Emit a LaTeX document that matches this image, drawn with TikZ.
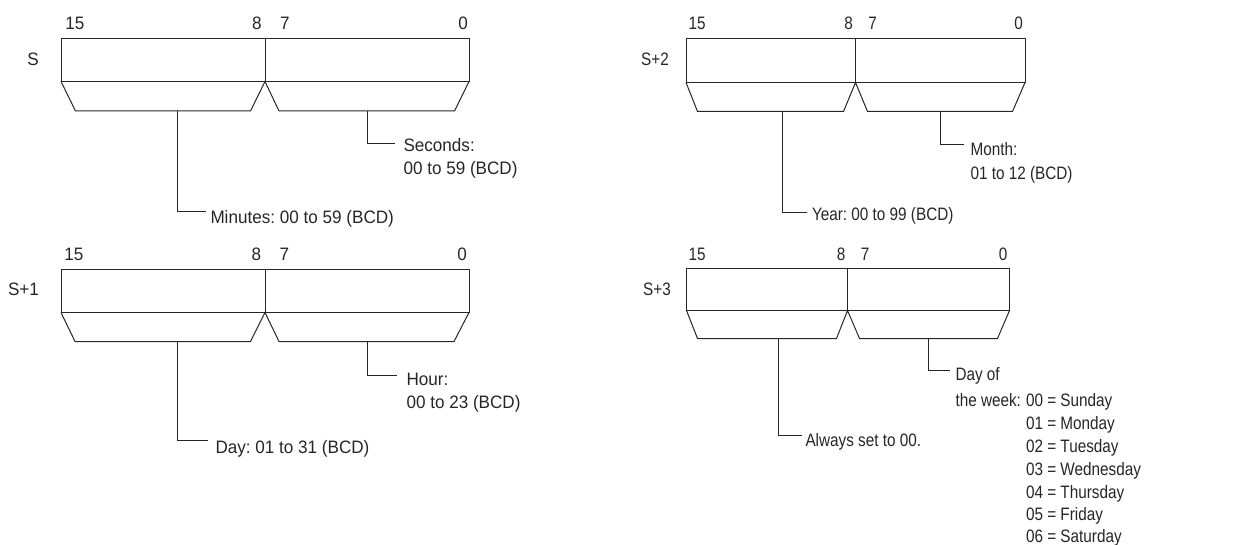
\documentclass[tikz,border=0pt]{standalone}
\usepackage{fontspec}
\setmainfont{Liberation Sans}
\newfontfamily\leftfam{Liberation Sans}[FakeStretch=0.95]
\newfontfamily\narrowfam{Liberation Sans}[FakeStretch=0.85]
\newcommand\lfont{\frenchspacing\leftfam\fontsize{18}{21}\selectfont}
\newcommand\rfont{\frenchspacing\narrowfam\fontsize{18}{21}\selectfont}
\begin{document}
\begin{tikzpicture}[x=1pt,y=-1pt, line width=1pt, line join=miter, draw=black!85,
  lt/.style={inner sep=0pt, font=\lfont, text=black!85},
  rt/.style={inner sep=0pt, font=\rfont, text=black!85}]
\useasboundingbox (0,0) rectangle (1250,545);

% ---------------- S ----------------
\node[lt, anchor=base] (sname) at (33,66) {S};
\node[lt, anchor=base] (s15) at (75,30) {15};
\node[lt, anchor=base] (s8) at (257,30) {8};
\node[lt, anchor=base] (s7) at (285,30) {7};
\node[lt, anchor=base] (s0) at (463,30) {0};
\draw (61,38.5) rectangle (469,81.5);
\draw (265,38.5) -- (265,81.5);
\draw (61,81.5) -- (75.5,111) -- (250.5,111) -- (265,81.5) -- (279,111) -- (454.5,111) -- (469,81.5);
\coordinate (smin) at (206,211.5);
\coordinate (ssec) at (395,144);
\draw (177.5,111) |- (smin);
\draw (367,111) |- (ssec);
\node[lt, anchor=base west] (tmin) at (210,224) {Minutes: 00 to 59 (BCD)};
\node[lt, anchor=base west] (tsec1) at (403,151.5) {Seconds:};
\node[lt, anchor=base west] (tsec2) at (403,175) {00 to 59 (BCD)};

% ---------------- S+1 ----------------
\node[lt, anchor=base] (s1name) at (23.5,296) {S+1};
\node[lt, anchor=base] (s115) at (74,261) {15};
\node[lt, anchor=base] (s18) at (256.5,261) {8};
\node[lt, anchor=base] (s17) at (284.5,261) {7};
\node[lt, anchor=base] (s10) at (462,261) {0};
\draw (61,270) rectangle (469,312.5);
\draw (265,270) -- (265,312.5);
\draw (61,312.5) -- (75,341.5) -- (250.5,341.5) -- (265,312.5) -- (279,341.5) -- (454,341.5) -- (469,312.5);
\coordinate (sday) at (208,440.5);
\coordinate (shour) at (396.5,375);
\draw (177,341.5) |- (sday);
\draw (367,341.5) |- (shour);
\node[lt, anchor=base west] (tday) at (215,453) {Day: 01 to 31 (BCD)};
\node[lt, anchor=base west] (thour1) at (406,385) {Hour:};
\node[lt, anchor=base west] (thour2) at (406,408.5) {00 to 23 (BCD)};

% ---------------- S+2 ----------------
\node[rt, anchor=base] (s2name) at (655,66) {S+2};
\node[rt, anchor=base] (s215) at (697,30) {15};
\node[rt, anchor=base] (s28) at (848.5,30) {8};
\node[rt, anchor=base] (s27) at (872.5,30) {7};
\node[rt, anchor=base] (s20) at (1018.5,30) {0};
\draw (686,39) rectangle (1025,82.5);
\draw (855.5,39) -- (855.5,82.5);
\draw (686,82.5) -- (697.5,111.5) -- (843.5,111.5) -- (855.5,82.5) -- (867.5,111.5) -- (1012.5,111.5) -- (1025,82.5);
\coordinate (syear) at (807,212.5);
\coordinate (smonth) at (963.5,144.5);
\draw (782.5,111.5) |- (syear);
\draw (940,111.5) |- (smonth);
\node[rt, anchor=base west] (tyear) at (811.5,220.5) {Year: 00 to 99 (BCD)};
\node[rt, anchor=base west] (tmonth1) at (970,156) {Month:};
\node[rt, anchor=base west] (tmonth2) at (970,179.5) {01 to 12 (BCD)};

% ---------------- S+3 ----------------
\node[rt, anchor=base] (s3name) at (657,296) {S+3};
\node[rt, anchor=base] (s315) at (697,261) {15};
\node[rt, anchor=base] (s38) at (841,261) {8};
\node[rt, anchor=base] (s37) at (865,261) {7};
\node[rt, anchor=base] (s30) at (1003,261) {0};
\draw (686.5,268.5) rectangle (1009.5,310.5);
\draw (847.5,268.5) -- (847.5,310.5);
\draw (686.5,310.5) -- (697.5,338.5) -- (836.5,338.5) -- (847.5,310.5) -- (859.5,338.5) -- (997.5,338.5) -- (1009.5,310.5);
\coordinate (salw) at (801.5,435.5);
\coordinate (sdow) at (950,370);
\draw (778.5,338.5) |- (salw);
\draw (928.5,338.5) |- (sdow);
\node[rt, anchor=base west] (talw) at (805,446.5) {Always set to 00.};
\node[rt, anchor=base west] (tdow1) at (955,380) {Day of};
\node[rt, anchor=base west] (tdow2) at (955,406.5) {the week:};
\node[rt, anchor=base west] (d0) at (1025.5,406.5) {00 = Sunday};
\node[rt, anchor=base west] (d1) at (1025.5,429.5) {01 = Monday};
\node[rt, anchor=base west] (d2) at (1025.5,452.5) {02 = Tuesday};
\node[rt, anchor=base west] (d3) at (1025.5,475) {03 = Wednesday};
\node[rt, anchor=base west] (d4) at (1025.5,498) {04 = Thursday};
\node[rt, anchor=base west] (d5) at (1025.5,520.5) {05 = Friday};
\node[rt, anchor=base west] (d6) at (1025.5,542.5) {06 = Saturday};
\end{tikzpicture}
\end{document}
